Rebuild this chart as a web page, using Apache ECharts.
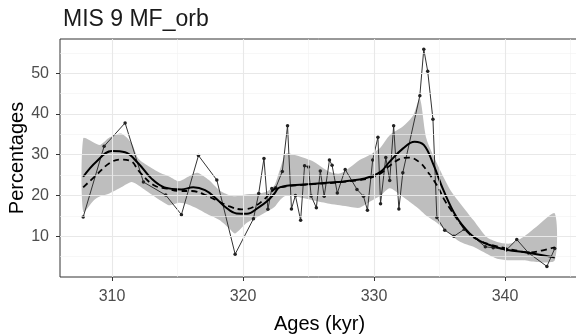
<!DOCTYPE html>
<html>
<head>
<meta charset="utf-8">
<script src="https://cdn.jsdelivr.net/npm/echarts@6/dist/echarts.min.js"></script>
<style>
html,body{margin:0;padding:0;background:#fff;}
#chart{width:576px;height:335px;}
</style>
</head>
<body>
<div id="chart"></div>
<script>
// Raw measurements (age kyr, percentage)
const rawAges = [307.8,309.4,311.0,312.4,314.1,315.3,316.6,318.0,319.4,320.8,321.2,321.6,321.9,322.2,322.5,323.0,323.4,323.7,324.0,324.4,324.7,325.0,325.2,325.6,325.9,326.2,326.6,326.8,327.2,327.8,328.7,329.2,329.5,329.9,330.3,330.5,330.9,331.2,331.5,331.9,332.2,333.5,333.8,334.1,334.5,334.8,335.4,336.1,336.9,338.5,339.1,340.1,340.9,341.8,343.2,343.8];
const rawValues = [14.7,32.1,37.8,23.3,20.1,15.3,29.8,23.8,5.6,14.3,20.5,29.1,16.6,21.7,21.9,25.9,37.1,16.7,20.0,13.9,27.3,27.0,19.9,17.0,26.0,19.8,28.7,27.4,20.6,26.4,21.5,19.8,16.4,28.7,34.3,18.0,29.3,23.7,37.1,16.7,25.6,44.5,55.9,50.5,38.7,14.6,11.5,10.0,11.7,7.4,7.2,6.6,9.2,5.9,2.6,7.0];

// Solid smooth curve
const solidAges = [307.8,308.8,310.0,311.0,312.0,313.0,314.0,315.3,316.2,317.1,317.9,318.6,319.5,320.3,321.2,321.9,322.4,322.8,324.6,327.2,328.9,329.7,330.5,331.2,332.2,333.1,333.8,334.5,335.3,336.3,337.3,338.1,338.9,340.1,341.9,343.8];
const solidValues = [24.6,28.3,30.9,30.6,27.9,24.2,22.0,21.5,22.0,21.3,19.4,17.3,15.6,15.5,17.1,18.8,20.5,22.0,22.7,23.3,23.9,24.6,25.8,28.3,31.5,33.2,32.4,27.9,21.3,14.7,10.7,8.8,7.8,6.7,5.9,4.8];

// Dashed curve
const dashAges = [307.8,308.8,309.8,310.6,311.4,312.1,313.2,314.2,315.1,316.1,317.0,318.0,318.9,319.9,320.8,321.7,322.3,322.8,324.6,327.2,328.9,329.7,330.5,331.2,332.2,332.7,333.5,334.1,334.8,335.4,335.8,336.3,337.3,338.1,338.9,340.1,341.0,341.9,342.8,343.8];
const dashValues = [22.0,25.0,27.9,28.8,28.5,25.8,22.5,21.7,21.1,21.1,20.3,18.8,17.4,16.6,17.2,19.3,21.3,22.0,22.6,23.2,23.8,24.3,25.4,27.3,29.2,29.3,28.1,25.8,22.5,18.8,16.8,14.4,10.5,8.9,7.9,7.0,6.4,6.0,6.5,7.3];

// Grey band
const bandAges = [307.8,308.6,309.1,309.8,310.7,311.5,312.0,312.9,313.7,314.4,315.1,315.8,316.5,317.4,318.2,319.0,319.4,320.3,321.2,321.8,322.4,322.8,323.3,324.1,325.4,326.6,327.4,328.2,328.9,329.7,330.5,331.2,332.2,333.0,333.5,334.0,334.8,335.8,336.6,337.6,338.6,339.4,340.4,341.4,342.4,343.8];
const bandLow = [16.0,18.8,19.8,20.5,22.0,23.3,22.5,20.5,18.8,17.6,18.2,17.8,16.8,15.2,14.0,11.8,10.7,13.3,14.9,16.0,17.2,18.8,20.0,19.7,18.8,18.0,17.6,17.2,17.0,18.5,20.0,21.8,19.7,17.8,16.5,15.0,13.3,10.5,8.6,7.4,5.7,4.5,4.1,4.1,3.7,4.1];
const bandHigh = [34.0,33.0,32.4,34.2,35.2,32.8,29.1,27.0,25.5,24.6,23.5,24.6,25.6,23.8,21.3,20.0,19.8,20.3,20.5,20.9,22.5,26.2,30.3,29.8,28.3,25.8,25.4,27.0,28.7,30.0,31.8,34.8,36.9,39.7,43.8,34.0,27.9,21.5,18.0,13.9,9.8,8.6,8.2,9.8,12.3,15.6];

// Axis ticks
const xTicks = [310, 320, 330, 340];
const xMinor = [305, 315, 325, 335, 345];
const yTicks = [10, 20, 30, 40, 50];
const yMinor = [5, 15, 25, 35, 45, 55];

const zip = (a, b) => a.map((v, i) => [v, b[i]]);

const gridLines = [];
yMinor.forEach(v => gridLines.push({yAxis: v, lineStyle: {color: '#f2f2f2', width: 0.6, type: 'solid'}}));
xMinor.forEach(v => gridLines.push({xAxis: v, lineStyle: {color: '#f2f2f2', width: 0.6, type: 'solid'}}));
yTicks.forEach(v => gridLines.push({yAxis: v, lineStyle: {color: '#e8e8e8', width: 1.1, type: 'solid'}}));
xTicks.forEach(v => gridLines.push({xAxis: v, lineStyle: {color: '#e8e8e8', width: 1.1, type: 'solid'}}));

const bandData = bandAges.map((a, i) => [a, bandLow[i], bandHigh[i]]);

const chart = echarts.init(document.getElementById('chart'), null, {renderer: 'canvas'});
const font = 'Liberation Sans, Arial, sans-serif';
chart.setOption({
  animation: false,
  backgroundColor: '#ffffff',
  title: {
    text: 'MIS 9 MF_orb',
    left: 58, top: 3,
    textStyle: {fontFamily: font, fontSize: 23, fontWeight: 'normal', color: '#1a1a1a'}
  },
  grid: {
    left: 60, right: -3, top: 39, bottom: 58,
    outerBoundsMode: 'none', containLabel: false,
    show: true, borderColor: '#333333', borderWidth: 1, backgroundColor: '#ffffff'
  },
  xAxis: {
    type: 'value', min: 306.03, max: 345.65,
    name: 'Ages (kyr)', nameLocation: 'middle', nameGap: 37, nameMoveOverlap: false,
    nameTextStyle: {fontFamily: font, fontSize: 20, color: '#000'},
    axisLine: {show: false},
    axisTick: {show: true, length: 4, lineStyle: {color: '#333'}, customValues: xTicks},
    axisLabel: {fontFamily: font, fontSize: 16, color: '#4d4d4d', margin: 12, customValues: xTicks},
    splitLine: {show: false}
  },
  yAxis: {
    type: 'value', min: 0, max: 58.4,
    name: 'Percentages', nameLocation: 'middle', nameGap: 33, nameRotate: 90, nameMoveOverlap: false,
    nameTextStyle: {fontFamily: font, fontSize: 20, color: '#000'},
    axisLine: {show: false},
    axisTick: {show: true, length: 4, lineStyle: {color: '#333'}, customValues: yTicks},
    axisLabel: {fontFamily: font, fontSize: 16, color: '#4d4d4d', margin: 11, customValues: yTicks},
    splitLine: {show: false}
  },
  series: [
    {
      type: 'line', data: [], z: 1, silent: true,
      markLine: {silent: true, symbol: 'none', label: {show: false}, animation: false, data: gridLines}
    },
    {
      type: 'custom', data: bandData, z: 2, silent: true,
      encode: {x: 0, y: [1, 2]},
      renderItem: function (params, api) {
        if (params.dataIndex !== 0) return null;
        const upper = [], lower = [];
        for (let i = 0; i < bandData.length; i++) {
          upper.push(api.coord([bandData[i][0], bandData[i][2]]));
          lower.push(api.coord([bandData[i][0], bandData[i][1]]));
        }
        const pts = upper.concat(lower.reverse());
        return {
          type: 'polygon',
          shape: {points: pts, smooth: 0.25},
          style: {fill: '#bebebe', stroke: null}
        };
      }
    },
    {
      type: 'line', data: zip(rawAges, rawValues), z: 3,
      symbol: 'circle', symbolSize: 3.5,
      itemStyle: {color: '#222'},
      lineStyle: {color: '#333333', width: 1}
    },
    {
      type: 'line', data: zip(solidAges, solidValues), smooth: 0.4, symbol: 'none', z: 4,
      lineStyle: {color: '#000', width: 2}
    },
    {
      type: 'line', data: zip(dashAges, dashValues), smooth: 0.4, symbol: 'none', z: 4,
      lineStyle: {color: '#000', width: 1.8, type: [6, 4]}
    }
  ]
});
</script>
</body>
</html>
